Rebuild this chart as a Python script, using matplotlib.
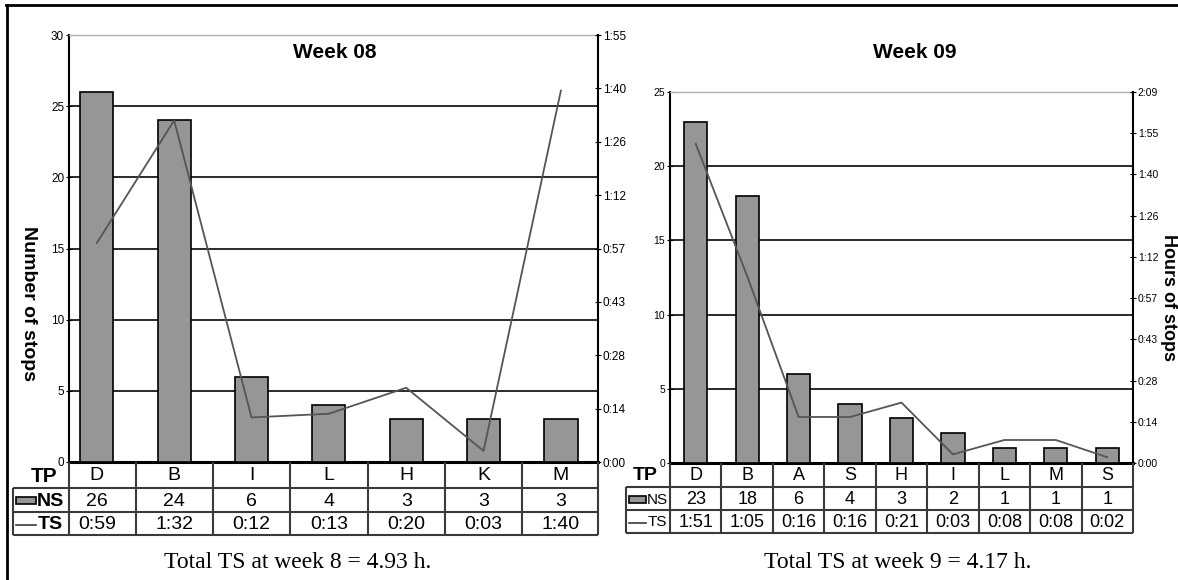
import matplotlib
matplotlib.use("Agg")
import matplotlib.pyplot as plt
import numpy as np
from matplotlib.patches import Rectangle

plt.rcParams["font.family"] = ["Liberation Sans", "DejaVu Sans"]

W, H = 1178, 580

# Week 08 data
week08_tp = ["D", "B", "I", "L", "H", "K", "M"]
week08_ns = [26, 24, 6, 4, 3, 3, 3]
week08_ts = ["0:59", "1:32", "0:12", "0:13", "0:20", "0:03", "1:40"]
week08_hour_ticks = ["0:00", "0:14", "0:28", "0:43", "0:57", "1:12", "1:26", "1:40", "1:55"]
week08_ns_max = 30

# Week 09 data
week09_tp = ["D", "B", "A", "S", "H", "I", "L", "M", "S"]
week09_ns = [23, 18, 6, 4, 3, 2, 1, 1, 1]
week09_ts = ["1:51", "1:05", "0:16", "0:16", "0:21", "0:03", "0:08", "0:08", "0:02"]
week09_hour_ticks = ["0:00", "0:14", "0:28", "0:43", "0:57", "1:12", "1:26", "1:40", "1:55", "2:09"]
week09_ns_max = 25


def to_minutes(s):
    h, m = s.split(":")
    return int(h) * 60 + int(m)


def fig_rect(x0, y0, x1, y1):
    """Pixel box (top-left origin) -> figure fraction rect."""
    return [x0 / W, 1 - y1 / H, (x1 - x0) / W, (y1 - y0) / H]


def draw_week(fig, tp, ns, ts, hour_ticks, ns_max, box, xlim, rows, head_left,
              bar_w, tick_fs, cell_fs, head_fs, tp_fs, small_head):
    x0, y0, x1, y1 = box
    n = len(tp)
    x = np.arange(n)

    ax = fig.add_axes(fig_rect(x0, y0, x1, y1))
    ax.bar(x, ns, width=bar_w, color="#969696", edgecolor="black", linewidth=1.2, zorder=3)
    for v in range(5, ns_max, 5):
        ax.axhline(v, color="#2a2a2a", lw=1.4, zorder=1)
    ax.set_xlim(*xlim)
    ax.set_ylim(0, ns_max)
    ax.set_yticks(range(0, ns_max + 1, 5))
    ax.set_xticks([])
    ax.tick_params(axis="y", direction="inout", length=5, width=0.8, labelsize=tick_fs, pad=1)
    ax.spines["left"].set_linewidth(1.5)
    ax.spines["bottom"].set_linewidth(2.2)
    ax.spines["top"].set_color("#b0b0b0")
    ax.spines["top"].set_linewidth(1.0)
    ax.spines["right"].set_visible(False)

    # Hours of stops on secondary axis
    ax2 = ax.twinx()
    tmax = to_minutes(hour_ticks[-1])
    ax2.plot(x, [to_minutes(t) for t in ts], color="#555555", lw=1.3, zorder=4)
    ax2.set_ylim(0, tmax)
    ax2.set_yticks(np.linspace(0, tmax, len(hour_ticks)))
    ax2.set_yticklabels(hour_ticks)
    ax2.tick_params(axis="y", direction="inout", length=5, width=0.8, labelsize=tick_fs, pad=1)
    for side in ["left", "top", "bottom"]:
        ax2.spines[side].set_visible(False)
    ax2.spines["right"].set_linewidth(1.5)

    # Data table under the chart, y in pixel rows
    tab = fig.add_axes(fig_rect(x0, rows[0], x1, rows[3]))
    tab.set_xlim(*xlim)
    tab.set_ylim(rows[3], rows[0])
    tab.axis("off")
    cat_px = (x1 - x0) / (xlim[1] - xlim[0])
    hx = xlim[0] + (head_left - x0) / cat_px
    lc = dict(color="#3a3a3a", lw=1.5, clip_on=False, solid_capstyle="butt")
    for k in range(n - 1):
        tab.plot([k + 0.5, k + 0.5], [rows[0], rows[3]], **lc)
    tab.plot([xlim[0], xlim[0]], [rows[0], rows[3]], **lc)
    tab.plot([xlim[1], xlim[1]], [rows[0], rows[3]], **lc)
    tab.plot([hx, hx], [rows[1], rows[3]], **lc)
    for r in rows[1:]:
        tab.plot([hx, xlim[1]], [r, r], **lc)

    mid = [(rows[i] + rows[i + 1]) / 2 + 1 for i in range(3)]
    for i in range(n):
        tab.text(i, mid[0], tp[i], ha="center", va="center", fontsize=cell_fs)
        tab.text(i, mid[1], str(ns[i]), ha="center", va="center", fontsize=cell_fs)
        tab.text(i, mid[2], ts[i], ha="center", va="center", fontsize=cell_fs)

    tab.text(xlim[0] - 12 / cat_px, mid[0], "TP", ha="right", va="center",
             fontsize=tp_fs, fontweight="bold")
    key_x = hx + 3 / cat_px
    key_w = (20 if not small_head else 17) / cat_px
    tab.add_patch(Rectangle((key_x, mid[1] - 4), key_w, 7, facecolor="#969696",
                            edgecolor="black", lw=1.2, clip_on=False))
    tab.plot([key_x, key_x + key_w], [mid[2], mid[2]], color="#3a3a3a", lw=1.2, clip_on=False)
    weight = "normal" if small_head else "bold"
    tab.text(key_x + key_w + 1 / cat_px, mid[1], "NS", ha="left", va="center",
             fontsize=head_fs, fontweight=weight)
    tab.text(key_x + key_w + 2 / cat_px, mid[2], "TS", ha="left", va="center",
             fontsize=head_fs, fontweight=weight)
    return ax


fig = plt.figure(figsize=(W / 100, H / 100), dpi=100)

draw_week(fig, week08_tp, week08_ns, week08_ts, week08_hour_ticks, week08_ns_max,
          box=(69, 35, 598, 462), xlim=(-0.36, 6.48), rows=(462, 488, 512, 535),
          head_left=13, bar_w=0.43, tick_fs=8.5, cell_fs=14, head_fs=14, tp_fs=15,
          small_head=False)
draw_week(fig, week09_tp, week09_ns, week09_ts, week09_hour_ticks, week09_ns_max,
          box=(670, 92, 1133, 463), xlim=(-0.5, 8.5), rows=(463, 487, 510, 533),
          head_left=626, bar_w=0.45, tick_fs=7.5, cell_fs=13, head_fs=11, tp_fs=14,
          small_head=True)

# Titles, axis labels and captions
fig.text(335 / W, 1 - 53 / H, "Week 08", ha="center", va="center", fontsize=15, fontweight="bold")
fig.text(915 / W, 1 - 52 / H, "Week 09", ha="center", va="center", fontsize=15, fontweight="bold")
fig.text(28 / W, 1 - 303 / H, "Number of stops", ha="center", va="center", rotation=270,
         fontsize=14, fontweight="bold")
fig.text(1168 / W, 1 - 298 / H, "Hours of stops", ha="center", va="center", rotation=270,
         fontsize=13, fontweight="bold")
fig.text(298 / W, 1 - 568 / H, "Total TS at week 8 = 4.93 h.", ha="center", va="baseline",
         fontsize=17, family="Liberation Serif")
fig.text(898 / W, 1 - 568 / H, "Total TS at week 9 = 4.17 h.", ha="center", va="baseline",
         fontsize=17, family="Liberation Serif")

# Outer frame (top and left edges only)
frame = fig.add_axes([0, 0, 1, 1], zorder=-1)
frame.set_xlim(0, W)
frame.set_ylim(H, 0)
frame.axis("off")
frame.plot([6, W], [5, 5], color="black", lw=2)
frame.plot([6.5, 6.5], [5, H], color="black", lw=2)

fig.savefig("out.png", dpi=100)
